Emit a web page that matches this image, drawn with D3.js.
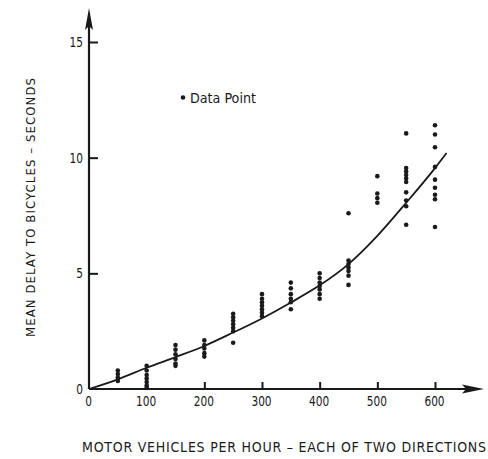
<!DOCTYPE html>
<html>
<head>
<meta charset="utf-8">
<script src="https://cdn.jsdelivr.net/npm/d3@7"></script>
<style>
  html, body { margin: 0; padding: 0; background: #fff; }
  svg { display: block; }
  text { font-family: "DejaVu Sans Condensed", "Liberation Sans Narrow", sans-serif; fill: #1a1a1a; }
</style>
</head>
<body>
<svg id="chart" width="488" height="459"></svg>
<script>
// Observed delays (seconds) grouped by motor-vehicle volume (vehicles/hour)
const volumes = [50, 100, 150, 200, 250, 300, 350, 400, 450, 500, 550, 600];
const delays = [
  [0.8, 0.65, 0.5, 0.35],
  [1.0, 0.8, 0.6, 0.45, 0.3, 0.15, 0.05],
  [1.9, 1.7, 1.5, 1.3, 1.1, 1.0],
  [2.1, 1.9, 1.75, 1.55, 1.4],
  [3.25, 3.1, 2.95, 2.8, 2.65, 2.5, 2.0],
  [4.1, 3.9, 3.75, 3.6, 3.45, 3.3, 3.15],
  [4.6, 4.35, 4.1, 3.9, 3.75, 3.45],
  [5.0, 4.8, 4.6, 4.45, 4.3, 4.1, 3.9],
  [7.6, 5.55, 5.4, 5.25, 5.1, 4.9, 4.5],
  [9.2, 8.45, 8.25, 8.05],
  [11.05, 9.55, 9.4, 9.25, 9.1, 8.95, 8.5, 8.15, 7.9, 7.1],
  [11.4, 11.0, 10.45, 9.6, 9.05, 8.7, 8.4, 8.2, 7.0]
];

// Fitted delay curve
const curveVolumes = [0, 50, 100, 150, 200, 250, 300, 350, 400, 450, 500, 550, 600, 620];
const curveDelays  = [0, 0.42, 0.92, 1.38, 1.86, 2.44, 3.05, 3.74, 4.48, 5.4, 6.62, 8.05, 9.55, 10.2];

const xTicks = [0, 100, 200, 300, 400, 500, 600];
const yTicks = [0, 5, 10, 15];

const xTitle = "MOTOR VEHICLES PER HOUR \u2013 EACH OF TWO DIRECTIONS";
const yTitle = "MEAN DELAY TO BICYCLES \u2013 SECONDS";
const legendLabel = "Data Point";

const ink = "#1a1a1a";
const svg = d3.select("#chart");

const x = d3.scaleLinear().domain([0, 600]).range([89, 435]);
const y = d3.scaleLinear().domain([0, 15]).range([389, 42]);

// Axes (ticks point inward)
const gx = svg.append("g").attr("transform", `translate(0,${y(0)})`)
  .call(d3.axisBottom(x).tickValues(xTicks).tickSizeInner(-7).tickSizeOuter(0).tickPadding(7));
const gy = svg.append("g").attr("transform", `translate(${x(0)},0)`)
  .call(d3.axisLeft(y).tickValues(yTicks).tickSizeInner(-9).tickSizeOuter(0).tickPadding(6));

[gx, gy].forEach(g => {
  g.select(".domain").remove();
  g.selectAll(".tick line").attr("stroke", ink).attr("stroke-width", 2)
    .filter(d => d === 0).remove();
  g.selectAll(".tick text").attr("font-size", 14)
    .attr("font-family", "'DejaVu Sans Condensed', 'Liberation Sans Narrow', sans-serif")
    .attr("fill", ink);
});
// narrow, tall tick numerals
gx.selectAll(".tick text").attr("transform", "translate(-1,0) scale(0.84,1)");
gy.selectAll(".tick text").attr("transform", "translate(-1,0) scale(0.84,1)");

// Axis lines with arrowheads
svg.append("line").attr("x1", x(0)).attr("y1", y(0)).attr("x2", 466).attr("y2", y(0))
  .attr("stroke", ink).attr("stroke-width", 2.2);
svg.append("path")
  .attr("d", `M484,${y(0)} L462,${y(0) - 4.5} L466,${y(0)} L462,${y(0) + 4.5} Z`)
  .attr("fill", ink);
svg.append("line").attr("x1", x(0)).attr("y1", y(0)).attr("x2", x(0)).attr("y2", 26)
  .attr("stroke", ink).attr("stroke-width", 2.2);
svg.append("path")
  .attr("d", `M${x(0)},8 L${x(0) - 4},30 L${x(0)},26 L${x(0) + 4},30 Z`)
  .attr("fill", ink);

// Fitted curve
const curvePts = curveVolumes.map((v, i) => [v, curveDelays[i]]);
svg.append("path")
  .datum(curvePts)
  .attr("fill", "none")
  .attr("stroke", ink)
  .attr("stroke-width", 1.8)
  .attr("d", d3.line().x(d => x(d[0])).y(d => y(d[1])).curve(d3.curveMonotoneX));

// Observations
const points = volumes.flatMap((v, i) => delays[i].map(d => ({ v, d })));
svg.append("g").selectAll("circle").data(points).join("circle")
  .attr("cx", p => x(p.v)).attr("cy", p => y(p.d)).attr("r", 2.3).attr("fill", ink);

// Legend
svg.append("circle").attr("cx", 183).attr("cy", 97.5).attr("r", 2.3).attr("fill", ink);
svg.append("text").attr("x", 190).attr("y", 103).attr("font-size", 14)
  .attr("textLength", 66).attr("lengthAdjust", "spacingAndGlyphs")
  .text(legendLabel);

// Axis titles
svg.append("text")
  .attr("x", 82).attr("y", 452)
  .attr("font-size", 14)
  .attr("textLength", 404).attr("lengthAdjust", "spacing")
  .text(xTitle);
svg.append("text")
  .attr("transform", "translate(35,337) rotate(-90)")
  .attr("font-size", 13)
  .attr("textLength", 259).attr("lengthAdjust", "spacing")
  .text(yTitle);
</script>
</body>
</html>
